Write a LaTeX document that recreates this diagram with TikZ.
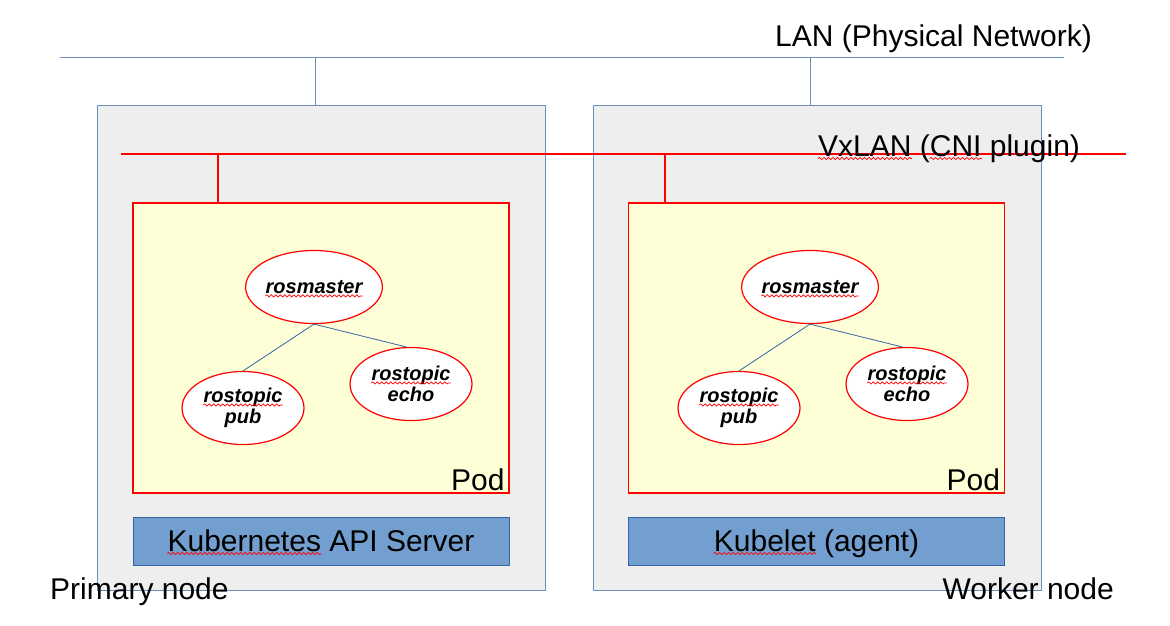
\documentclass[tikz,border=0pt]{standalone}
\usepackage{fontspec}
\setmainfont{Liberation Sans}
\usetikzlibrary{positioning}
\usetikzlibrary{shapes.geometric}
\usetikzlibrary{decorations.pathmorphing}
\definecolor{hostfill}{HTML}{EEEEEE}
\definecolor{hostline}{HTML}{6C8EBF}
\definecolor{podfill}{HTML}{FFFFD7}
\definecolor{svcfill}{HTML}{729FCF}
\definecolor{svcline}{HTML}{3465A4}
\newcommand\bigtxt{\fontsize{30}{36}\selectfont}
\newcommand\rostxt{\fontsize{20}{21.5}\selectfont\bfseries\itshape}
\tikzset{wave/.style={draw=red, line width=0.7pt, decorate, decoration={snake, amplitude=1.1pt, segment length=4.5pt}}}
\tikzset{word/.style={shape=rectangle, draw=none, fill=none, inner sep=0pt, minimum width=0pt, minimum height=0pt}}
\newcommand\squig[1]{\tikz[baseline=(w.base)]{\node[word] (w) {#1}; \draw[wave, overlay] ([yshift=-2.5pt]w.base west) -- ([yshift=-2.5pt]w.base east);}}
\tikzset{host/.style={draw=hostline, fill=hostfill, line width=1pt, minimum width=448pt, minimum height=485pt, inner sep=0pt}}
\tikzset{pod/.style={draw=red, fill=podfill, line width=1.5pt, minimum width=376pt, minimum height=290pt, inner sep=0pt}}
\tikzset{svc/.style={draw=svcline, fill=svcfill, line width=0.8pt, minimum width=376pt, minimum height=48pt, inner sep=0pt, text height=24pt, text depth=4pt, font=\bigtxt}}
\tikzset{ros/.style={draw=red, fill=white, ellipse, line width=1.2pt, minimum width=122pt, minimum height=73pt, inner sep=0pt, align=center, font=\rostxt}}
\tikzset{lan/.style={draw=hostline, line width=1pt}}
\tikzset{vx/.style={draw=red, line width=1.5pt}}
\tikzset{ed/.style={draw=svcline, line width=0.8pt}}
\tikzset{lbl/.style={inner sep=0pt, font=\bigtxt}}

\begin{document}
\begin{tikzpicture}[x=1pt, y=-1pt]
\useasboundingbox (0,0) rectangle (1170,625);

\node[host] (primary) at (321, 347.5) {};
\node[host] (worker) at (817, 347.5) {};

% physical network
\coordinate (lanL) at (60, 57);
\coordinate (lanR) at (1064, 57);
\coordinate (lanP) at (315, 57);
\coordinate (lanW) at (810, 57);
\draw[lan] (lanL) -- (lanR);
\draw[lan] (lanP) -- (lanP |- primary.north);
\draw[lan] (lanW) -- (lanW |- worker.north);
\node[lbl, anchor=base west] (lan) at (775, 46) {LAN (Physical Network)};

\node[pod] (podP) at (321, 348) {};
\node[pod] (podW) at (816.5, 348) {};

% overlay network
\coordinate (vxL) at (121, 154);
\coordinate (vxR) at (1126, 154);
\coordinate (vxP) at (218, 154);
\coordinate (vxW) at (665, 154);
\draw[vx] (vxL) -- (vxR);
\draw[vx] (vxP) -- (vxP |- podP.north);
\draw[vx] (vxW) -- (vxW |- podW.north);
\node[lbl, anchor=base west] (vxlan) at (818, 156) {\squig{VxLAN} (\squig{CNI} plugin)};

\node[lbl, anchor=base east] (podPl) at ([xshift=-5pt, yshift=3pt]podP.south east) {Pod};
\node[lbl, anchor=base east] (podWl) at ([xshift=-5pt, yshift=3pt]podW.south east) {Pod};

\node[svc] (api) at (321, 541) {\squig{Kubernetes} API Server};
\node[svc] (kubelet) at (816.5, 541) {\squig{Kubelet} (agent)};

\node[lbl, anchor=base west] (primlbl) at (50, 599) {Primary node};
\node[lbl, anchor=base east] (worklbl) at (1114, 599) {Worker node};

\node[ros] (masterP) at (314, 287) {\squig{rosmaster}};
\node[ros] (pubP) at (243, 408) {\squig{rostopic}\\pub};
\node[ros] (echoP) at (411, 384) {\squig{rostopic}\\echo};
\draw[ed] (masterP.south) -- (pubP.north);
\draw[ed] (masterP.south) -- (echoP.97);

\node[ros] (masterW) at (810, 287) {\squig{rosmaster}};
\node[ros] (pubW) at (739, 408) {\squig{rostopic}\\pub};
\node[ros] (echoW) at (907, 384) {\squig{rostopic}\\echo};
\draw[ed] (masterW.south) -- (pubW.north);
\draw[ed] (masterW.south) -- (echoW.97);
\end{tikzpicture}
\end{document}
